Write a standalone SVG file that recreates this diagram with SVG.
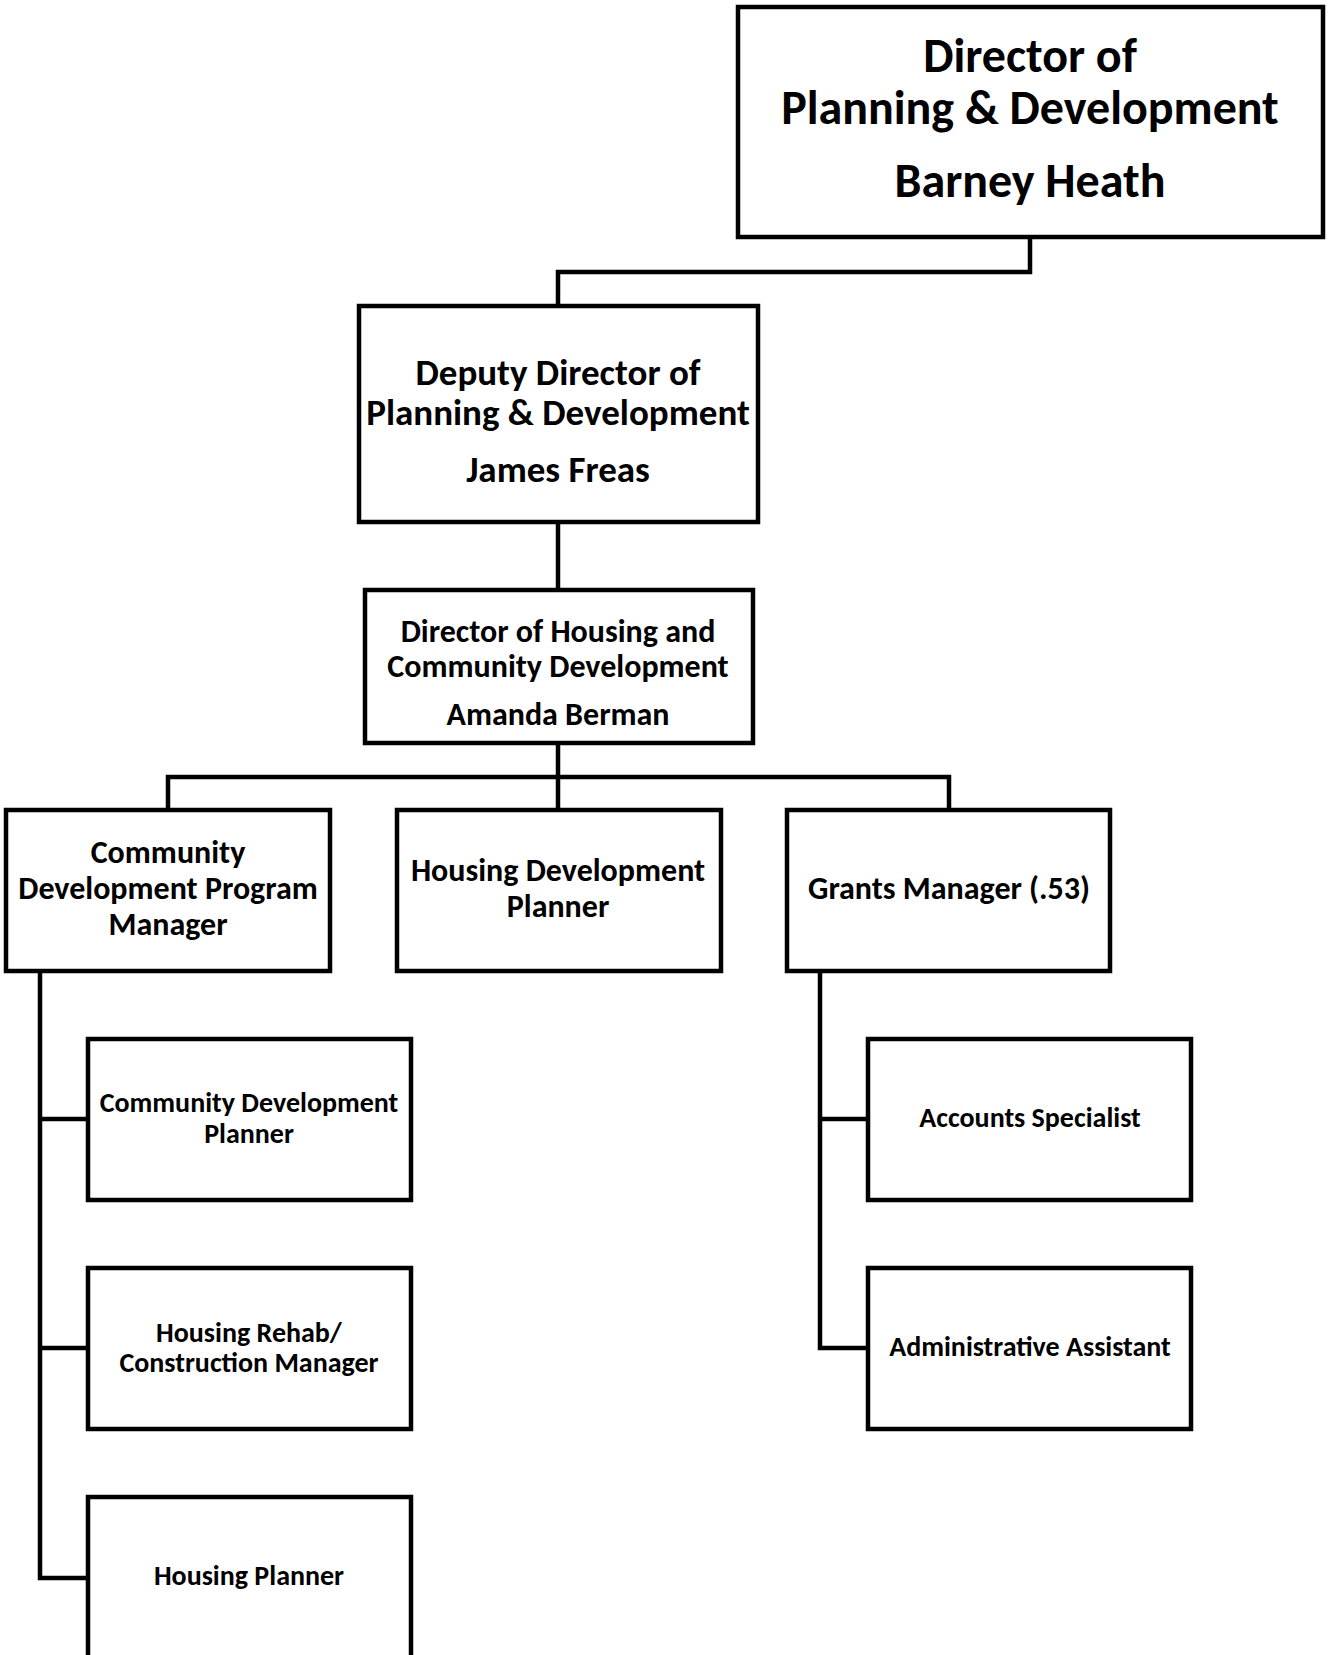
<svg xmlns="http://www.w3.org/2000/svg" width="1330" height="1655" viewBox="0 0 1330 1655">
<style>
.box{fill:#fff;stroke:#000;stroke-width:4.5}
.c{fill:none;stroke:#000;stroke-width:4.5;stroke-linejoin:miter}
text{font-family:Carlito,Lato,"Liberation Sans",sans-serif;font-weight:bold;fill:#000;text-anchor:middle}
.t48{font-size:48px}.t37{font-size:37px}.t32{font-size:32px}.t28{font-size:28px}
</style>
<rect width="1330" height="1655" fill="#fff"/>
<g id="connectors">
<path class="c" d="M1030 237V272H558V306"/>
<path class="c" d="M558 522V590"/>
<path class="c" d="M558 743V810M168 810V777H949V810"/>
<path class="c" d="M40 971V1578H88M40 1119H88M40 1348H88"/>
<path class="c" d="M820 971V1348H868M820 1119H868"/>
</g>
<g id="director">
<rect class="box" x="738" y="7" width="585" height="230"/>
<text class="t48" x="1030" y="72">Director of</text>
<text class="t48" x="1030" y="124">Planning &amp; Development</text>
<text class="t48" x="1030" y="197">Barney Heath</text>
</g>
<g id="deputy">
<rect class="box" x="359" y="306" width="399" height="216"/>
<text class="t37" x="558" y="385">Deputy Director of</text>
<text class="t37" x="558" y="425">Planning &amp; Development</text>
<text class="t37" x="558" y="482">James Freas</text>
</g>
<g id="housing-director">
<rect class="box" x="365" y="590" width="388" height="153"/>
<text class="t32" x="558" y="642">Director of Housing and</text>
<text class="t32" x="558" y="677">Community Development</text>
<text class="t32" x="558" y="725">Amanda Berman</text>
</g>
<g id="cdpm">
<rect class="box" x="6" y="810" width="324" height="161"/>
<text class="t32" x="168" y="863">Community</text>
<text class="t32" x="168" y="899">Development Program</text>
<text class="t32" x="168" y="935">Manager</text>
</g>
<g id="hdp">
<rect class="box" x="397" y="810" width="324" height="161"/>
<text class="t32" x="558" y="881">Housing Development</text>
<text class="t32" x="558" y="917">Planner</text>
</g>
<g id="grants">
<rect class="box" x="787" y="810" width="323" height="161"/>
<text class="t32" x="949" y="899">Grants Manager (.53)</text>
</g>
<g id="cd-planner">
<rect class="box" x="88" y="1039" width="323" height="161"/>
<text class="t28" x="249" y="1112">Community Development</text>
<text class="t28" x="249" y="1143">Planner</text>
</g>
<g id="rehab">
<rect class="box" x="88" y="1268" width="323" height="161"/>
<text class="t28" x="249" y="1342">Housing Rehab/</text>
<text class="t28" x="249" y="1372">Construction Manager</text>
</g>
<g id="housing-planner">
<rect class="box" x="88" y="1497" width="323" height="200"/>
<text class="t28" x="249" y="1585">Housing Planner</text>
</g>
<g id="accounts">
<rect class="box" x="868" y="1039" width="323" height="161"/>
<text class="t28" x="1030" y="1127">Accounts Specialist</text>
</g>
<g id="admin">
<rect class="box" x="868" y="1268" width="323" height="161"/>
<text class="t28" x="1030" y="1356">Administrative Assistant</text>
</g>
</svg>
